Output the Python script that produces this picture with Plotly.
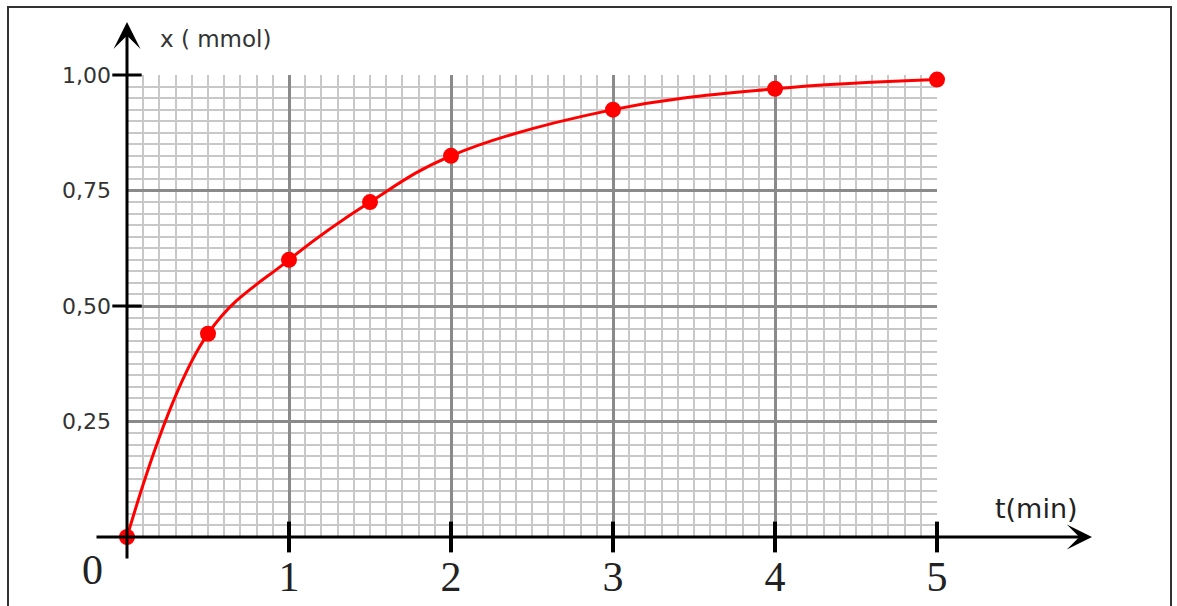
import plotly.graph_objects as go

# ---- data ----
t_min = [0, 0.5, 1, 1.5, 2, 3, 4, 5]
x_mmol = [0, 0.44, 0.60, 0.725, 0.825, 0.925, 0.97, 0.99]

x_tick_vals = [1, 2, 3, 4, 5]
x_tick_text = ["1", "2", "3", "4", "5"]
y_tick_vals = [0.25, 0.50, 0.75, 1.00]
y_tick_text = ["0,25", "0,50", "0,75", "1,00"]
y_mark_vals = [0.50, 1.00]

W, H = 1177, 606
L, R, T, B = 127, 240, 75, 69

SERIF = "Liberation Serif"
SANS = "DejaVu Sans"

fig = go.Figure()

# red curve
fig.add_trace(go.Scatter(
    x=t_min, y=x_mmol, mode="lines",
    line=dict(color="#ff0000", width=3, shape="spline", smoothing=1.1),
    hoverinfo="skip", showlegend=False))

# tick marks on x axis
fig.add_trace(go.Scatter(
    x=x_tick_vals, y=[0] * len(x_tick_vals), mode="markers",
    marker=dict(symbol="line-ns", size=22, line=dict(color="black", width=4)),
    cliponaxis=False, hoverinfo="skip", showlegend=False))

# tick marks on y axis
fig.add_trace(go.Scatter(
    x=[0] * len(y_mark_vals), y=y_mark_vals, mode="markers",
    marker=dict(symbol="line-ew", size=21, line=dict(color="black", width=3)),
    cliponaxis=False, hoverinfo="skip", showlegend=False))

# red points
fig.add_trace(go.Scatter(
    x=t_min, y=x_mmol, mode="markers",
    marker=dict(color="#ff0000", size=16, line=dict(width=0)),
    cliponaxis=False, hoverinfo="skip", showlegend=False))

fig.update_xaxes(
    range=[0, 5], tickvals=x_tick_vals, ticktext=x_tick_text,
    showgrid=True, gridcolor="#8a8a8a", gridwidth=3,
    zeroline=False, showline=False, ticks="", automargin=False,
    tickfont=dict(family=SERIF, size=42, color="#222222"),
    ticklabelstandoff=11,
    minor=dict(dtick=0.1, tick0=0, showgrid=True, gridcolor="#c8c8c8", gridwidth=1.5),
    fixedrange=True)

fig.update_yaxes(
    range=[0, 1], tickvals=y_tick_vals, ticktext=y_tick_text,
    showgrid=True, gridcolor="#8a8a8a", gridwidth=3,
    zeroline=False, showline=False, ticks="", automargin=False,
    tickfont=dict(family=SANS, size=22, color="#333333"),
    ticklabelstandoff=15,
    minor=dict(dtick=0.025, tick0=0, showgrid=True, gridcolor="#c8c8c8", gridwidth=1.5),
    fixedrange=True)

def px_x(p):
    return (p - L) / (W - L - R)

def px_y(p):
    return (H - B - p) / (H - T - B)

annotations = [
    # y axis arrow
    dict(xref="paper", yref="paper", x=0, y=px_y(22), ax=0, ay=538,
         axref="pixel", ayref="pixel", text="", showarrow=True,
         arrowhead=3, arrowsize=1.5, arrowwidth=3, arrowcolor="black", standoff=0),
    # x axis arrow
    dict(xref="paper", yref="paper", x=px_x(1092), y=0, ax=-997, ay=0,
         axref="pixel", ayref="pixel", text="", showarrow=True,
         arrowhead=3, arrowsize=1.4, arrowwidth=3, arrowcolor="black", standoff=0),
    dict(xref="paper", yref="paper", x=px_x(158), y=px_y(39), xanchor="left", yanchor="middle",
         text="x ( mmol)", showarrow=False,
         font=dict(family=SANS, size=23, color="#333333")),
    dict(xref="paper", yref="paper", x=px_x(1036), y=px_y(508), xanchor="center", yanchor="middle",
         text="t(min)", showarrow=False,
         font=dict(family=SANS, size=27, color="#222222")),
    dict(xref="paper", yref="paper", x=px_x(92), y=px_y(570), xanchor="center", yanchor="middle",
         text="0", showarrow=False,
         font=dict(family=SERIF, size=42, color="#222222")),
]

shapes = [
    dict(type="rect", xref="paper", yref="paper",
         x0=px_x(8), x1=px_x(1171), y0=px_y(640), y1=px_y(7),
         line=dict(color="#333333", width=2), fillcolor="rgba(0,0,0,0)", layer="above"),
]

fig.update_layout(
    width=W, height=H,
    margin=dict(l=L, r=R, t=T, b=B, autoexpand=False),
    paper_bgcolor="white", plot_bgcolor="white",
    annotations=annotations, shapes=shapes,
    showlegend=False)

fig.write_html(
    "out.html",
    config={"displayModeBar": False},
    post_script="document.body.style.margin='0';document.body.style.padding='0';"
                "document.body.style.overflow='hidden';")
